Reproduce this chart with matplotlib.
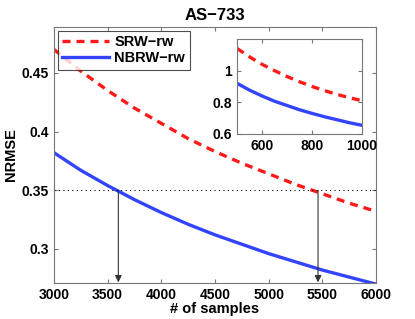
import matplotlib
matplotlib.use("Agg")
import matplotlib.pyplot as plt
import numpy as np

plt.rcParams['font.family'] = ['Liberation Sans', 'DejaVu Sans']
plt.rcParams['font.weight'] = 'bold'

# main plot data
samples = [3000, 3250, 3500, 3750, 4000, 4250, 4500, 4750, 5000, 5250, 5500, 5750, 6000]
srw = [0.470, 0.4515, 0.435, 0.420, 0.407, 0.394, 0.383, 0.373, 0.364, 0.355, 0.347, 0.339, 0.332]
nbrw = [0.382, 0.367, 0.354, 0.342, 0.331, 0.321, 0.312, 0.304, 0.296, 0.289, 0.282, 0.276, 0.270]

# inset data
samples_in = [500, 550, 600, 650, 700, 750, 800, 850, 900, 950, 1000]
srw_in = [1.14, 1.087, 1.04, 1.0, 0.963, 0.93, 0.90, 0.874, 0.85, 0.829, 0.81]
nbrw_in = [0.92, 0.877, 0.84, 0.807, 0.78, 0.753, 0.73, 0.709, 0.69, 0.671, 0.655]

target = 0.35
cross = [3600, 5460]

red = '#ff1a1a'
blue = '#3344ff'
spine_col = '#777777'

fig = plt.figure(figsize=(4.15, 3.19), dpi=100)
ax = fig.add_axes([0.130, 0.113, 0.776, 0.802])

ax.plot(samples, srw, '--', color=red, lw=2.4, dashes=(2.4, 1.8), label='SRW\u2212rw')
ax.plot(samples, nbrw, '-', color=blue, lw=2.4, label='NBRW\u2212rw')
ax.axhline(target, color='k', lw=0.8, ls=(0, (1, 3)))
for c in cross:
    ax.annotate('', xy=(c, 0.2715), xytext=(c, target),
                arrowprops=dict(arrowstyle='-|>', color='#333333', lw=0.8,
                                mutation_scale=10, shrinkA=0, shrinkB=0))

ax.set_xlim(3000, 6000)
ax.set_ylim(0.271, 0.489)
ax.set_xticks([3000, 3500, 4000, 4500, 5000, 5500, 6000])
ax.set_yticks([0.3, 0.35, 0.4, 0.45])
ax.set_yticklabels(['0.3', '0.35', '0.4', '0.45'])
ax.tick_params(direction='in', top=True, right=True, labelsize=10, length=3,
               color=spine_col)
for s in ax.spines.values():
    s.set_color(spine_col)
ax.set_xlabel('# of samples', fontsize=10.5, fontweight='bold', labelpad=0)
ax.set_ylabel('NRMSE', fontsize=10.5, fontweight='bold', labelpad=3)
ax.set_title('AS\u2212733', fontsize=12, fontweight='bold', pad=5)
leg = ax.legend(loc='upper left', fontsize=10.5, frameon=True, fancybox=False,
                edgecolor='#222222', handlelength=3.2, borderaxespad=0.25,
                borderpad=0.3, labelspacing=0.15, handletextpad=0.4)
leg.get_frame().set_linewidth(0.8)

ins = fig.add_axes([0.571, 0.580, 0.301, 0.298])
ins.plot(samples_in, srw_in, '--', color=red, lw=2.4, dashes=(2.4, 1.8))
ins.plot(samples_in, nbrw_in, '-', color=blue, lw=2.4)
ins.set_xlim(500, 1000)
ins.set_ylim(0.6, 1.2)
ins.set_xticks([600, 800, 1000])
ins.set_yticks([0.6, 0.8, 1.0])
ins.set_yticklabels(['0.6', '0.8', '1'])
ins.tick_params(direction='in', top=True, right=True, labelsize=10, length=3,
                color=spine_col)
for s in ins.spines.values():
    s.set_color(spine_col)

fig.savefig('out.png', dpi=100)
